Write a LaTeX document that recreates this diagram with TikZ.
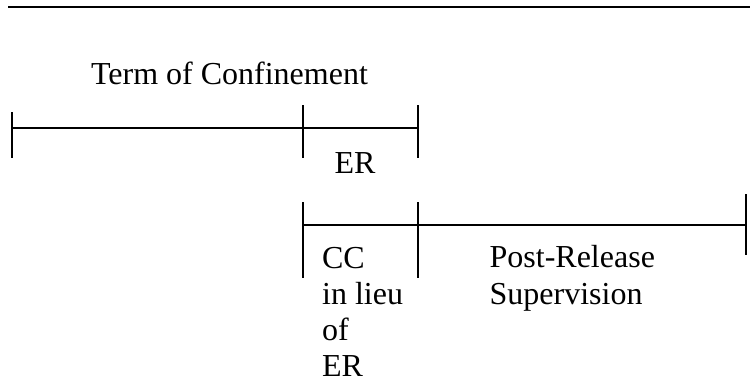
\documentclass[tikz,border=0pt]{standalone}
\usepackage{fontspec}
\setmainfont{Liberation Serif}
\begin{document}
\begin{tikzpicture}[x=0.5pt, y=-0.5pt, line width=0.65pt, line cap=butt,
	lbl/.style={inner sep=0pt, font=\fontsize{16}{18}\selectfont}]
			\useasboundingbox (0,0) rectangle (750,381);
			\draw[line width=1pt] (8,7)--(750,7);
			% confinement line
			\coordinate (a) at (12,128);
			\coordinate (b) at (303,128);
			\coordinate (c) at (418,128);
			\draw (a)--(b)--(c);
			\draw (12,112)--(12,158);
			\draw (303,105)--(303,158);
			\draw (418,105)--(418,158);
			% supervision line
			\coordinate (d) at (303,225);
			\coordinate (e) at (418,225);
			\coordinate (f) at (746,225);
			\draw (d)--(e)--(f);
			\draw (303,202)--(303,278);
			\draw (418,202)--(418,278);
			\draw (746,194)--(746,255);
			\path 
			(229.5,84) node[lbl, anchor=base] (term) {Term of Confinement}
			(355,173) node[lbl, anchor=base] (er) {ER}
			(321.5,247) node[lbl, anchor=north west, align=left] (cc) {CC\\in lieu\\of\\ER}
			(489,245) node[lbl, anchor=north west, align=left,
				font=\fontsize{16}{18.5}\selectfont] (prs) {Post-Release\\Supervision}
			;
	\end{tikzpicture}
\end{document}
